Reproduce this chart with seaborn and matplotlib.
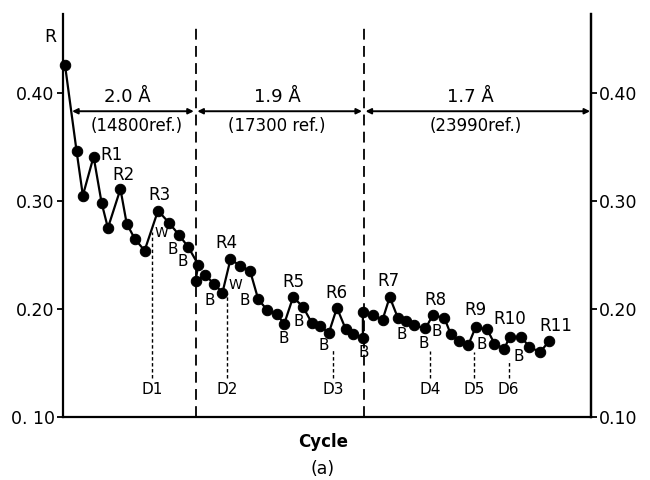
import numpy as np
import pandas as pd
import seaborn as sns
import matplotlib.pyplot as plt

# Refinement history: crystallographic R factor against refinement cycle
cycle = [0.0, 1.3, 2.0, 3.2, 4.1, 4.8, 6.2, 6.9, 7.8, 8.9,
         10.4, 11.6, 12.8, 13.8, 14.9, 14.6, 15.7, 16.7, 17.6, 18.5,
         19.6, 20.7, 21.6, 22.6, 23.7, 24.5, 25.5, 26.6, 27.6, 28.5,
         29.5, 30.4, 31.4, 32.2, 33.3, 33.3, 34.4, 35.5, 36.3, 37.2,
         38.1, 39.0, 40.3, 41.1, 42.4, 43.1, 44.1, 45.1, 45.9, 47.2,
         48.0, 49.1, 49.7, 51.0, 51.9, 53.1, 54.1]
r_factor = [0.426, 0.346, 0.305, 0.341, 0.298, 0.275, 0.311, 0.279, 0.265, 0.254,
            0.291, 0.280, 0.268, 0.257, 0.241, 0.226, 0.231, 0.223, 0.215, 0.246,
            0.240, 0.235, 0.209, 0.199, 0.195, 0.186, 0.211, 0.202, 0.187, 0.184,
            0.178, 0.201, 0.181, 0.177, 0.173, 0.197, 0.194, 0.190, 0.211, 0.192,
            0.189, 0.185, 0.182, 0.194, 0.192, 0.177, 0.170, 0.167, 0.183, 0.181,
            0.168, 0.163, 0.174, 0.174, 0.165, 0.160, 0.170]

# Rebuild stages (point index) and their labels
rebuild_labels = ["R1", "R2", "R3", "R4", "R5", "R6", "R7", "R8", "R9", "R10", "R11"]
rebuild_index = [3, 6, 10, 19, 26, 31, 38, 43, 48, 52, 56]

# Resolution shells
shell_res = ["2.0 Å", "1.9 Å", "1.7 Å"]
shell_refl = ["(14800ref.)", "(17300 ref.)", "(23990ref.)"]
shell_bounds = [0.8, 14.6, 33.4, 58.7]

y_ticks = [0.10, 0.20, 0.30, 0.40]
left_tick_labels = ["0. 10", "0.20", "0.30", "0.40"]
right_tick_labels = ["0.10", "0.20", "0.30", "0.40"]

df = pd.DataFrame({"Cycle": cycle, "R": r_factor})

sns.set_style("ticks")
plt.rcParams["font.family"] = ["DejaVu Sans"]
plt.rcParams["text.color"] = "black"
plt.rcParams["axes.labelcolor"] = "black"

W, H = 650, 480
fig = plt.figure(figsize=(6.5, 4.8), dpi=100)
fig.patch.set_facecolor("white")
ax = fig.add_axes([63 / W, 1 - 417 / H, (591 - 63) / W, (417 - 14) / H])

sns.lineplot(data=df, x="Cycle", y="R", sort=False, estimator=None,
             color="black", linewidth=1.6, marker="o", markersize=7.5,
             markeredgecolor="black", markerfacecolor="black", ax=ax,
             clip_on=False, zorder=3)

ax.set_xlim(-0.22, 58.8)
ax.set_ylim(0.10, 0.473)
ax.set_xticks([])
ax.set_xlabel("")
ax.set_ylabel("")
ax.set_yticks(y_ticks)
ax.set_yticklabels(left_tick_labels)
ax.tick_params(axis="y", direction="out", length=4.5, width=1.3, pad=1.5,
               labelsize=12.5, colors="black")
for side in ("left", "right", "bottom"):
    ax.spines[side].set_linewidth(1.6)
    ax.spines[side].set_color("black")
ax.spines["top"].set_visible(False)

ax2 = ax.twinx()
ax2.set_ylim(ax.get_ylim())
ax2.set_yticks(y_ticks)
ax2.set_yticklabels(right_tick_labels)
ax2.tick_params(axis="y", direction="out", length=4.5, width=1.3, pad=1.5,
                labelsize=12.5, colors="black")
for side in ("top", "left", "bottom"):
    ax2.spines[side].set_visible(False)
ax2.spines["right"].set_linewidth(1.6)
ax2.spines["right"].set_color("black")

# Resolution boundaries
for xb in shell_bounds[1:3]:
    ax.plot([xb, xb], [0.10, 0.463], color="black", lw=1.3,
            dashes=(6, 3.5), zorder=2)

# Shell extents with double-headed arrows and labels
arrow_y = 0.383
spans = [(shell_bounds[0], 14.4), (14.8, 33.2), (33.6, shell_bounds[3])]
label_x = [(7.0, 8.0), (23.7, 23.7), (45.3, 45.9)]
for (x0, x1), (lx_res, lx_ref), res, refl in zip(spans, label_x, shell_res, shell_refl):
    ax.annotate("", xy=(x1, arrow_y), xytext=(x0, arrow_y),
                arrowprops=dict(arrowstyle="<|-|>", color="black", lw=1.4,
                                mutation_scale=8, shrinkA=0, shrinkB=0))
    ax.text(lx_res, 0.396, res, ha="center", va="center", fontsize=13)
    ax.text(lx_ref, 0.369, refl, ha="center", va="center", fontsize=12)

# Rebuild labels above their points
label_offsets = [(18, 2), (3, 14), (1, 16), (-4, 16), (0, 15), (0, 15),
                 (-1, 16), (3, 15), (0, 17), (0, 18), (7, 15)]
for lab, idx, (dx, dy) in zip(rebuild_labels, rebuild_index, label_offsets):
    ax.annotate(lab, (cycle[idx], r_factor[idx]), xytext=(dx, dy),
                textcoords="offset pixels", ha="center", va="center",
                fontsize=12)

# B and W markers along the curve
b_pos = [(12.1, 0.255), (13.2, 0.244), (16.2, 0.208), (20.1, 0.208),
         (24.4, 0.173), (26.1, 0.188), (28.9, 0.166), (33.4, 0.160),
         (37.7, 0.176), (40.1, 0.168), (41.6, 0.179), (46.6, 0.167),
         (50.7, 0.156)]
for bx, by in b_pos:
    ax.text(bx, by, "B", ha="center", va="center", fontsize=11)
for wx, wy in [(10.8, 0.270), (19.0, 0.222)]:
    ax.text(wx, wy, "W", ha="center", va="center", fontsize=10)

# D markers with dotted leaders
d_labels = ["D1", "D2", "D3", "D4", "D5", "D6"]
d_x = [9.7, 18.1, 30.0, 40.8, 45.7, 49.6]
d_top = [0.271, 0.215, 0.162, 0.161, 0.160, 0.153]
for lab, dxp, top in zip(d_labels, d_x, d_top):
    ax.plot([dxp, dxp], [0.136, top], color="black", lw=1.0,
            dashes=(2.5, 1.8), zorder=1)
    ax.text(dxp, 0.125, lab, ha="center", va="center", fontsize=11)

fig.text(50 / W, 1 - 37 / H, "R", ha="center", va="center", fontsize=12.5)
fig.text(323 / W, 1 - 442 / H, "Cycle", ha="center", va="center",
         fontsize=12, fontweight="bold")
fig.text(323 / W, 1 - 469 / H, "(a)", ha="center", va="center", fontsize=12.5)

fig.savefig("out.png", dpi=100, facecolor="white")
